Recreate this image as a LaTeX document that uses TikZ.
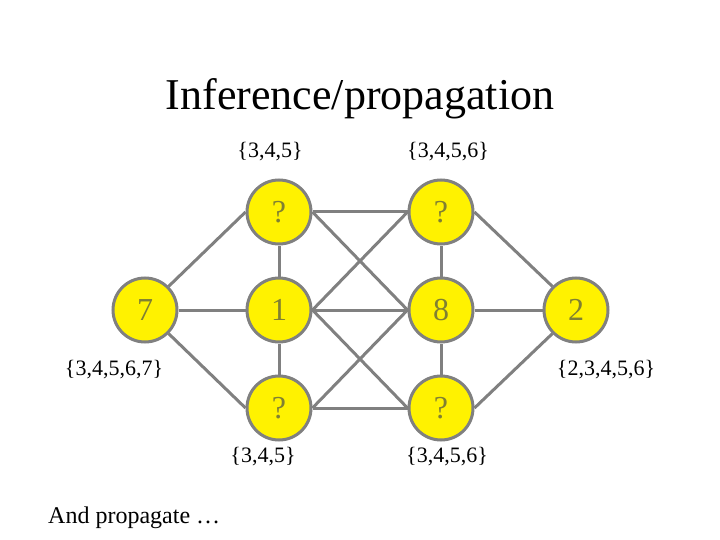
\documentclass[tikz,border=0pt]{standalone}
\usepackage{fontspec}
\setmainfont{Liberation Serif}
\usetikzlibrary{positioning}
\definecolor{nodegray}{RGB}{128,128,128}
\definecolor{numcolor}{RGB}{128,128,50}

\begin{document}
\begin{tikzpicture}[x=1pt, y=-1pt,
  var/.style={circle, minimum size=64pt, inner sep=0pt, fill=yellow, draw=nodegray, line width=3pt, text=numcolor, font=\fontsize{32}{36}\selectfont},
  dom/.style={font=\fontsize{22}{26}\selectfont},
  edge/.style={draw=nodegray, line width=3pt}]
\useasboundingbox (0,0) rectangle (720,540);
\node[font=\fontsize{44}{50}\selectfont, anchor=base] (title) at (360,110) {Inference/propagation};
\node[var] (x7) at (145,310) {7};
\node[var] (tl) at (279,212) {?};
\node[var] (c1) at (279,310) {1};
\node[var] (bl) at (279,408) {?};
\node[var] (tr) at (441,212) {?};
\node[var] (c8) at (441,310) {8};
\node[var] (br) at (441,408) {?};
\node[var] (x2) at (576,310) {2};
\node[dom] (dtl) at (270,152) {\{3,4,5\}};
\node[dom] (dtr) at (448,152) {\{3,4,5,6\}};
\node[dom] (dbl) at (263,457) {\{3,4,5\}};
\node[dom] (dbr) at (447,457) {\{3,4,5,6\}};
\node[dom] (d7) at (114,370) {\{3,4,5,6,7\}};
\node[dom] (d2) at (606,370) {\{2,3,4,5,6\}};
\node[font=\fontsize{24}{28}\selectfont, anchor=base west, inner sep=0pt] (note) at (48,523) {And propagate …};
\begin{scope}[on background layer/.try]
\draw[edge] (x7.north east) -- (tl.west);
\draw[edge] (x7.east) -- (c1.west);
\draw[edge] (x7.south east) -- (bl.west);
\draw[edge] (tl.south) -- (c1.north);
\draw[edge] (c1.south) -- (bl.north);
\draw[edge] (tr.south) -- (c8.north);
\draw[edge] (c8.south) -- (br.north);
\draw[edge] (tl.east) -- (tr.west);
\draw[edge] (c1.east) -- (c8.west);
\draw[edge] (bl.east) -- (br.west);
\draw[edge] (tl.east) -- (c8.west);
\draw[edge] (c1.east) -- (tr.west);
\draw[edge] (c1.east) -- (br.west);
\draw[edge] (bl.east) -- (c8.west);
\draw[edge] (tr.east) -- (x2.north west);
\draw[edge] (c8.east) -- (x2.west);
\draw[edge] (br.east) -- (x2.south west);
\end{scope}
\end{tikzpicture}
\end{document}
